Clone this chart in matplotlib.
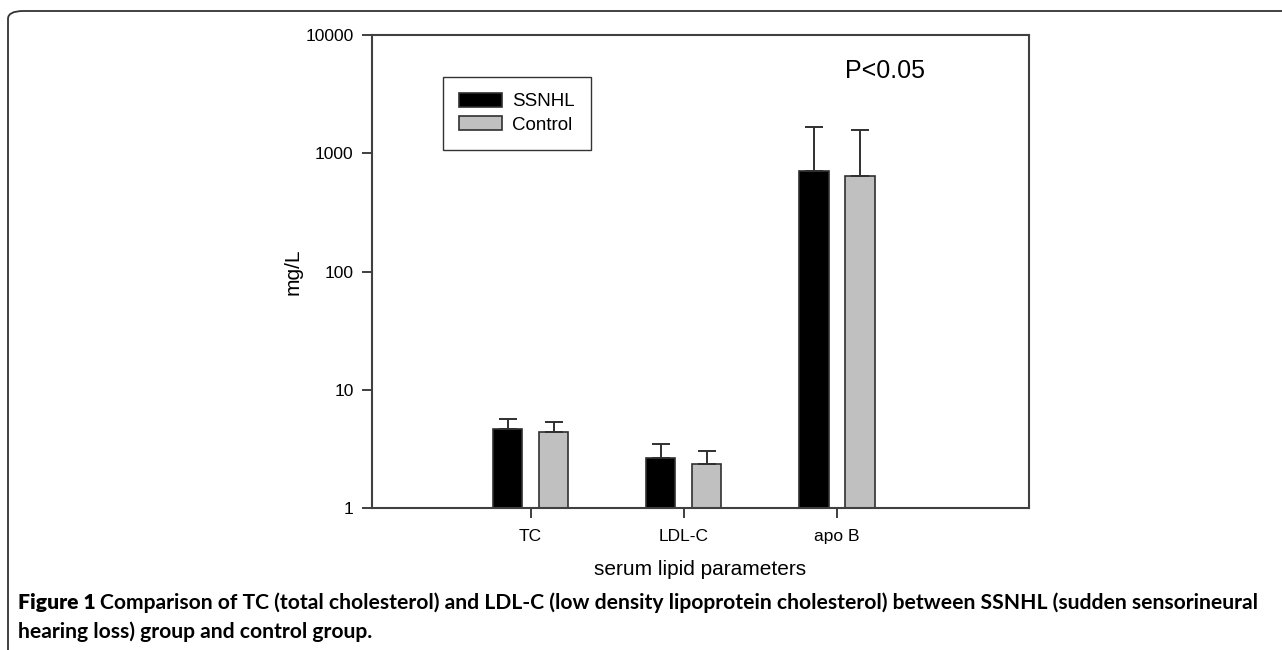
import matplotlib
matplotlib.use('Agg')
import matplotlib.pyplot as plt
from matplotlib.patches import FancyBboxPatch
import numpy as np

# data (mg/L, log axis)
categories = ['TC', 'LDL-C', 'apo B']
ssnhl_mean = [4.70, 2.67, 708.0]
ssnhl_upper = [5.71, 3.51, 1672.0]
control_mean = [4.35, 2.36, 641.0]
control_upper = [5.29, 3.06, 1578.0]

plt.rcParams['font.family'] = ['Liberation Sans', 'DejaVu Sans']

fig = plt.figure(figsize=(12.82, 6.5), dpi=100)
ax = fig.add_axes([0.290, 0.2185, 0.5127, 0.7275])

x = np.arange(1, len(categories) + 1)
w = 0.19
off = 0.15
edge = '#303030'

err_s = [np.zeros(len(x)), np.array(ssnhl_upper) - np.array(ssnhl_mean)]
err_c = [np.zeros(len(x)), np.array(control_upper) - np.array(control_mean)]

ax.bar(x - off, ssnhl_mean, w, color='black', edgecolor=edge, linewidth=1.2,
       label='SSNHL', zorder=2)
ax.bar(x + off, control_mean, w, color='#c0c0c0', edgecolor=edge, linewidth=1.2,
       label='Control', zorder=2)
ax.errorbar(x - off, ssnhl_mean, yerr=err_s, fmt='none', ecolor=edge,
            elinewidth=1.4, capsize=6.5, capthick=1.4, zorder=3)
ax.errorbar(x + off, control_mean, yerr=err_c, fmt='none', ecolor=edge,
            elinewidth=1.4, capsize=6.5, capthick=1.4, zorder=3)

ax.set_yscale('log')
ax.set_ylim(1, 10000)
ax.set_xlim(-0.036, 4.253)
ax.set_yticks([1, 10, 100, 1000, 10000])
ax.set_yticklabels(['1', '10', '100', '1000', '10000'])
ax.yaxis.set_minor_locator(matplotlib.ticker.NullLocator())
ax.set_xticks(x)
ax.set_xticklabels(categories)
ax.tick_params(axis='both', direction='out', length=7, width=1.3, color=edge,
               labelsize=12.5, pad=6)
ax.tick_params(axis='x', pad=8)
for s in ax.spines.values():
    s.set_linewidth(1.5)
    s.set_color('#404040')

ax.set_xlabel('serum lipid parameters', fontsize=15, labelpad=12)
ax.set_ylabel('mg/L', fontsize=15, labelpad=2)

ax.text(0.781, 0.924, 'P<0.05', transform=ax.transAxes, fontsize=18,
        ha='center', va='center')

leg = ax.legend(loc='upper left', bbox_to_anchor=(0.108, 0.912), fontsize=13.5,
                frameon=True, fancybox=False, edgecolor='black',
                handlelength=2.3, handleheight=0.8, handletextpad=0.55,
                borderpad=0.85, labelspacing=0.3, borderaxespad=0)
leg.get_frame().set_linewidth(1.0)

# panel outline with rounded corner, open at the right
border = FancyBboxPatch((8 / 1282, -0.1), 1.2, 1 - 11 / 650 + 0.1,
                        boxstyle='round,pad=0,rounding_size=0.012',
                        transform=fig.transFigure, fill=False,
                        edgecolor='#333333', linewidth=1.3, clip_on=False)
fig.patches.append(border)

cap_font = ['Lato', 'DejaVu Sans']
cap_size = 15.2
y1 = 1 - 609 / 650
y2 = 1 - 638 / 650
t1 = fig.text(18 / 1282, y1, 'Figure 1 ', fontsize=cap_size, fontweight='heavy',
              family=cap_font, va='baseline')
renderer = fig.canvas.get_renderer()
bb = t1.get_window_extent(renderer=renderer)
fig.text(bb.x1 / fig.bbox.width, y1,
         'Comparison of TC (total cholesterol) and LDL-C (low density lipoprotein '
         'cholesterol) between SSNHL (sudden sensorineural',
         fontsize=cap_size, fontweight='bold', family=cap_font, va='baseline')
fig.text(18 / 1282, y2, 'hearing loss) group and control group.',
         fontsize=cap_size, fontweight='bold', family=cap_font, va='baseline')

fig.savefig('out.png', dpi=100)
